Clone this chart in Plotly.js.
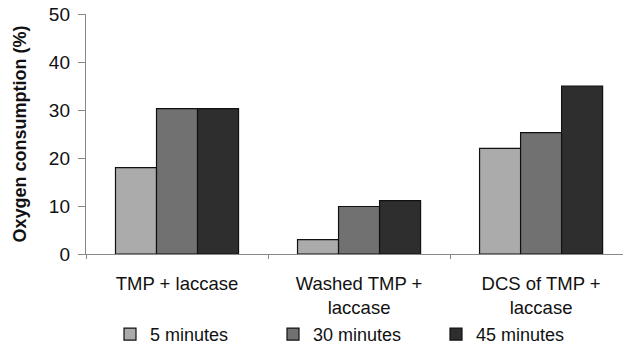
<!DOCTYPE html>
<html>
<head>
<meta charset="utf-8">
<script src="https://cdn.plot.ly/plotly-3.0.1.min.js"></script>
<style>html,body{margin:0;padding:0;background:#fff;}#chart{width:623px;height:347px;}</style>
</head>
<body>
<div id="chart"></div>
<script>
const categories = ["TMP + laccase", "Washed TMP +<br>laccase", "DCS of TMP +<br>laccase"];
const seriesNames = ["5 minutes", "30 minutes", "45 minutes"];
const min5 = [18, 3, 22];
const min30 = [30.3, 9.9, 25.3];
const min45 = [30.3, 11.1, 35];
const yTicks = [0, 10, 20, 30, 40, 50];
const colors = ["#ababab", "#717171", "#2e2e2e"];

const font = "Liberation Sans, Arial, sans-serif";
const data = [min5, min30, min45].map((vals, i) => ({
  type: "bar",
  name: seriesNames[i],
  x: categories,
  y: vals,
  marker: {color: colors[i], line: {color: "#111", width: 1.2}},
  hoverinfo: "none"
}));

const layout = {
  width: 623, height: 347,
  margin: {l: 86, r: 0, t: 14, b: 93, autoexpand: false},
  paper_bgcolor: "#fff", plot_bgcolor: "#fff",
  font: {family: font, size: 18, color: "#111"},
  barmode: "group", bargap: 0.324, bargroupgap: 0,
  showlegend: true,
  legend: {orientation: "h", x: 0.5, xanchor: "center", y: -0.335, yanchor: "middle",
           font: {size: 18, family: font, color: "#111"}, entrywidth: 118, itemwidth: 30,
           traceorder: "normal"},
  xaxis: {
    type: "category", range: [-0.5, 2.45], automargin: false,
    showline: true, linecolor: "#888", linewidth: 1.2,
    ticks: "outside", tickson: "boundaries", ticklen: 4, tickcolor: "#888",
    ticklabelstandoff: 13,
    showgrid: false, zeroline: false,
    tickfont: {size: 18.5, family: font, color: "#111"}
  },
  yaxis: {
    range: [0, 50], tickvals: yTicks, automargin: false,
    showline: true, linecolor: "#888", linewidth: 1.2,
    ticks: "outside", ticklen: 7, tickcolor: "#888",
    ticklabelstandoff: 4,
    showgrid: false, zeroline: false,
    tickfont: {size: 19, family: font, color: "#111"},
    title: {text: "<b>Oxygen consumption (%)</b>", font: {size: 18, family: font, color: "#111"}, standoff: 17}
  }
};

Plotly.newPlot("chart", data, layout, {staticPlot: true, displayModeBar: false});
</script>
</body>
</html>
